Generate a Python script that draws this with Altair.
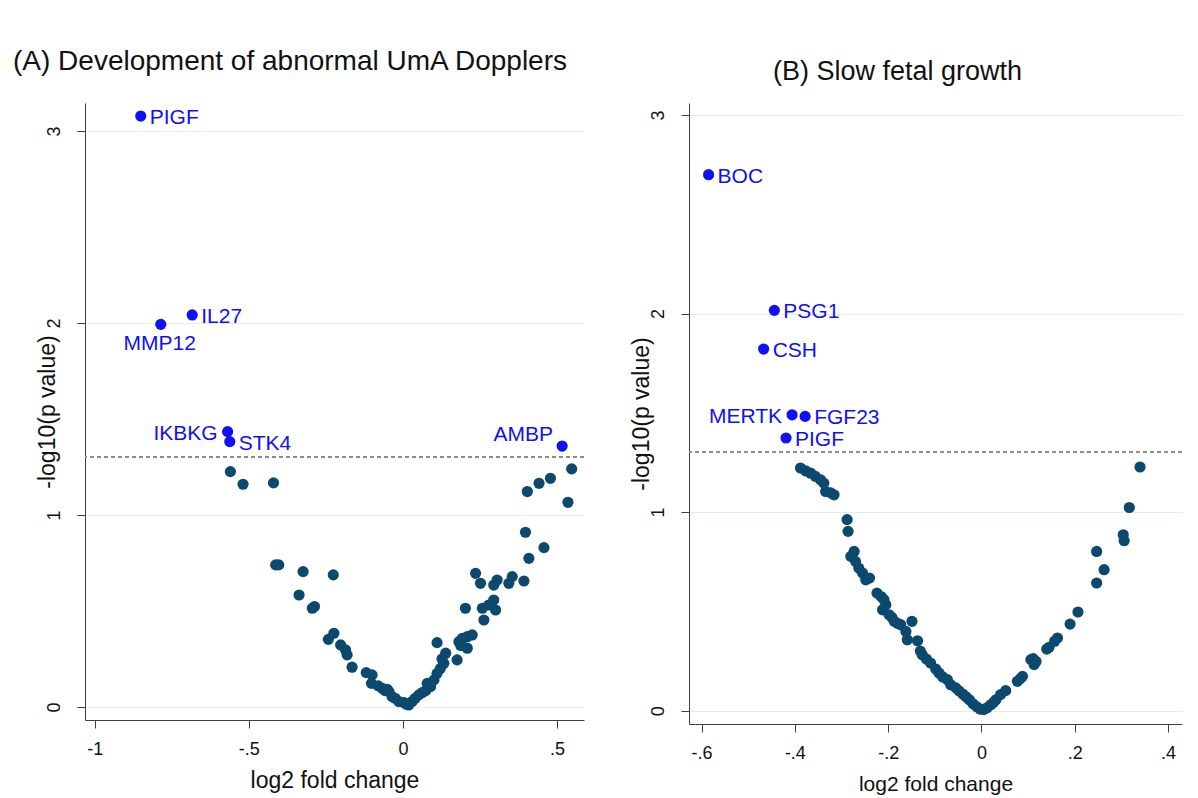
import altair as alt
import pandas as pd

# ---------------- data ----------------
# Panel A: Development of abnormal UmA Dopplers
a_sig_genes = ["PIGF", "IL27", "MMP12", "IKBKG", "STK4", "AMBP"]
a_sig_x = [-0.851, -0.684, -0.786, -0.569, -0.562, 0.517]
a_sig_y = [3.078, 2.042, 1.993, 1.434, 1.382, 1.359]

a_x = [-0.560, -0.519, -0.420, -0.413, -0.403, -0.324, -0.226, -0.337, -0.294, -0.287,
       -0.224, -0.242, -0.202, -0.186, -0.181, -0.165, -0.119, -0.100, -0.102, -0.080,
       -0.067, -0.058, -0.051, -0.045, -0.035, -0.025, -0.013, 0.003, 0.010, 0.019,
       0.030, 0.040, 0.052, 0.063, 0.074, 0.079, 0.090, 0.101, 0.111, 0.122,
       0.133, 0.139, 0.111, 0.127, 0.176, 0.182, 0.193, 0.209, 0.225, 0.209,
       0.188, 0.203, 0.236, 0.252, 0.263, 0.258, 0.279, 0.295, 0.301, 0.295,
       0.306, 0.344, 0.355, 0.393, 0.398, 0.409, 0.458, 0.404, 0.442, 0.479,
       0.548, 0.536]
a_y = [1.226, 1.160, 1.167, 0.740, 0.740, 0.705, 0.688, 0.583, 0.514, 0.523,
       0.384, 0.352, 0.323, 0.297, 0.271, 0.207, 0.179, 0.167, 0.123, 0.110,
       0.097, 0.085, 0.092, 0.080, 0.054, 0.045, 0.028, 0.023, 0.015, 0.010,
       0.028, 0.045, 0.063, 0.075, 0.085, 0.123, 0.106, 0.141, 0.175, 0.201,
       0.227, 0.280, 0.335, 0.250, 0.245, 0.340, 0.358, 0.366, 0.375, 0.306,
       0.320, 0.514, 0.696, 0.644, 0.453, 0.514, 0.531, 0.557, 0.505, 0.635,
       0.661, 0.644, 0.679, 0.656, 0.910, 0.774, 0.830, 1.122, 1.165, 1.191,
       1.240, 1.066]

# Panel B: Slow fetal growth
b_sig_genes = ["BOC", "PSG1", "CSH", "MERTK", "FGF23", "PIGF"]
b_sig_x = [-0.585, -0.444, -0.467, -0.406, -0.378, -0.419]
b_sig_y = [2.699, 2.016, 1.821, 1.490, 1.482, 1.373]

b_x = [-0.388, -0.377, -0.366, -0.356, -0.345, -0.338, -0.334, -0.323, -0.316, -0.288,
       -0.286, -0.273, -0.280, -0.270, -0.263, -0.255, -0.248, -0.240, -0.224, -0.215,
       -0.209, -0.205, -0.212, -0.198, -0.192, -0.187, -0.180, -0.173, -0.162, -0.149,
       -0.159, -0.137, -0.131, -0.127, -0.118, -0.109, -0.098, -0.091, -0.083, -0.073,
       -0.066, -0.055, -0.048, -0.040, -0.033, -0.026, -0.018, -0.010, -0.003,
       0.005, 0.012, 0.020, 0.026, 0.031, 0.041, 0.052, 0.077, 0.083, 0.088,
       0.106, 0.111, 0.117, 0.113, 0.140, 0.145, 0.157, 0.163, 0.190, 0.207,
       0.247, 0.263, 0.247, 0.304, 0.306, 0.317, 0.340]
b_y = [1.222, 1.208, 1.196, 1.180, 1.163, 1.146, 1.104, 1.097, 1.087, 0.962,
       0.903, 0.802, 0.777, 0.752, 0.718, 0.693, 0.659, 0.668, 0.592, 0.575,
       0.559, 0.534, 0.508, 0.483, 0.470, 0.450, 0.440, 0.433, 0.399, 0.450,
       0.357, 0.352, 0.300, 0.282, 0.260, 0.240, 0.210, 0.190, 0.170, 0.156,
       0.131, 0.115, 0.100, 0.084, 0.070, 0.055, 0.035, 0.020, 0.008,
       0.006, 0.015, 0.030, 0.042, 0.055, 0.081, 0.101, 0.148, 0.160, 0.173,
       0.257, 0.262, 0.248, 0.232, 0.310, 0.319, 0.350, 0.366, 0.436, 0.497,
       0.802, 0.710, 0.643, 0.886, 0.856, 1.023, 1.227]

threshold = 1.301  # -log10(0.05)

# ---------------- styling ----------------
FONT = "Liberation Sans"
DARK = "#0b4a6e"
BLUE = "#1010f5"
GRID = "#e4eef0"
AXIS = "#404040"

# label placement (Stata clock positions): r=3, l=9, b=6, ul=11
a_place = {"PIGF": "r", "IL27": "r", "MMP12": "b", "IKBKG": "l", "STK4": "r", "AMBP": "ul"}
b_place = {"BOC": "r", "PSG1": "r", "CSH": "r", "MERTK": "l", "FGF23": "r", "PIGF": "r"}
place_style = {
    "r": dict(align="left", dx=9, dy=2),
    "l": dict(align="right", dx=-10, dy=2),
    "b": dict(align="center", dx=-1, dy=20),
    "ul": dict(align="right", dx=-9, dy=-11),
}

tick_expr = "datum.value == 0 ? '0' : replace(toString(datum.value), '0.', '.')"


def panel(xs, ys, gx, gy, genes, place, xdom, ydom, xvals, w, h, title,
          xtitle_size, y_title_pad):
    pts = pd.DataFrame({"x": xs, "y": ys})
    sig = pd.DataFrame({"x": gx, "y": gy, "gene": genes})
    sig["place"] = [place[g] for g in genes]

    xsc = alt.Scale(domain=xdom, nice=False, zero=False)
    ysc = alt.Scale(domain=ydom, nice=False, zero=False)
    xenc = alt.X("x:Q", scale=xsc, title="log2 fold change",
                 axis=alt.Axis(values=xvals, labelExpr=tick_expr, grid=False,
                               titleFontSize=xtitle_size))
    yenc = alt.Y("y:Q", scale=ysc, title="-log10(p value)",
                 axis=alt.Axis(values=[0, 1, 2, 3], format="d", grid=True, labelAngle=270,
                               labelAlign="center", labelBaseline="bottom",
                               labelPadding=14, titlePadding=y_title_pad))

    base_pts = alt.Chart(pts).mark_circle(size=125, opacity=1, color=DARK).encode(x=xenc, y=yenc)
    rule = alt.Chart(pts).mark_rule(color="#8c8c8c", strokeDash=[4, 3], strokeWidth=1).encode(
        y=alt.datum(threshold))
    sig_pts = alt.Chart(sig).mark_circle(size=125, opacity=1, color=BLUE).encode(
        x=alt.X("x:Q", scale=xsc), y=alt.Y("y:Q", scale=ysc))

    layers = [rule, base_pts, sig_pts]
    for key, st in place_style.items():
        sub = sig[sig["place"] == key]
        if len(sub) == 0:
            continue
        layers.append(
            alt.Chart(sub).mark_text(font=FONT, fontSize=21, color=BLUE, baseline="middle", **st)
            .encode(x=alt.X("x:Q", scale=xsc), y=alt.Y("y:Q", scale=ysc), text="gene:N")
        )
    return alt.layer(*layers).properties(width=w, height=h, title=title)


left = panel(a_x, a_y, a_sig_x, a_sig_y, a_sig_genes, a_place,
             [-1.032, 0.588], [-0.068, 3.146], [-1, -0.5, 0, 0.5], 499, 617,
             alt.TitleParams("(A)  Development of abnormal UmA Dopplers", anchor="start",
                             frame="bounds", dx=-23.5, fontSize=28, font=FONT,
                             fontWeight="normal", color="#111111", offset=27), 23, -14.5)
right = panel(b_x, b_y, b_sig_x, b_sig_y, b_sig_genes, b_place,
              [-0.627, 0.430], [-0.067, 3.06], [-0.6, -0.4, -0.2, 0, 0.2, 0.4], 493, 621,
              alt.TitleParams("(B) Slow fetal growth", anchor="middle", frame="group",
                              dx=-38, fontSize=27, font=FONT, fontWeight="normal",
                              color="#111111", offset=17), 21, -4)

chart = alt.hconcat(left, right, spacing=105, bounds="flush").configure_view(
    stroke=None
).configure_axis(
    domainColor=AXIS, tickColor=AXIS, domainWidth=1, tickWidth=1, tickSize=8,
    labelFont=FONT, titleFont=FONT, labelFontSize=18, titleFontSize=23,
    labelColor="#111111", titleColor="#111111", titleFontWeight="normal",
    gridColor=GRID, gridWidth=1.2,
).configure_axisX(
    labelPadding=12, titlePadding=11
).properties(padding={"left": 13, "top": 48, "right": 5, "bottom": 5})

chart.save("out.html", embed_options={"renderer": "svg", "actions": False})
